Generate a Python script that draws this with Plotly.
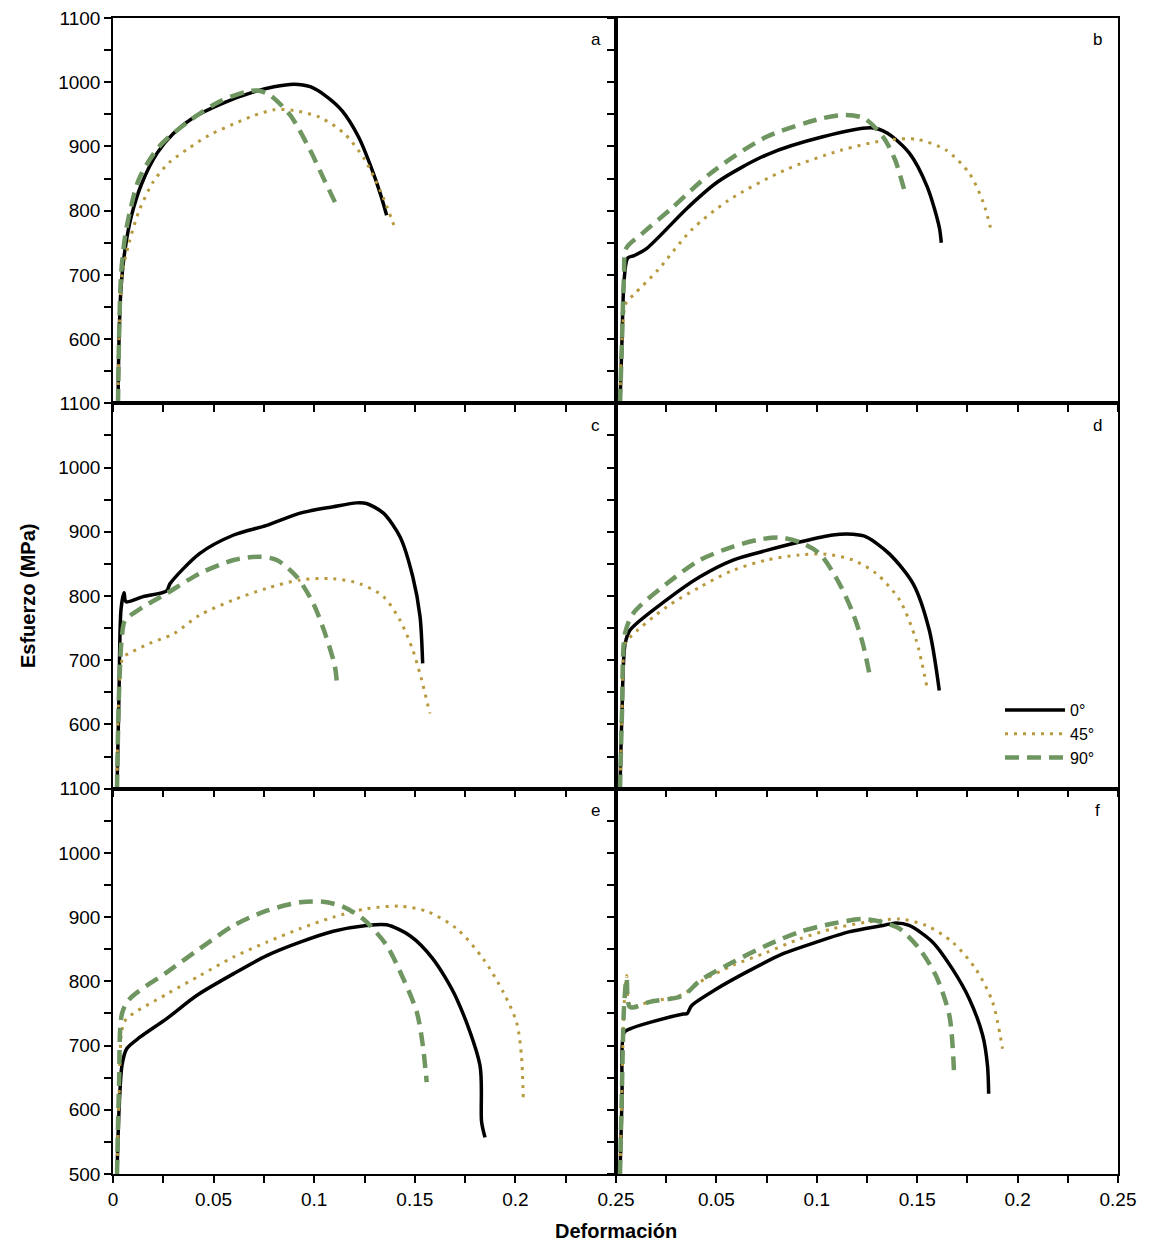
import plotly.graph_objects as go

# ---------------- data (strain, stress MPa) ----------------
orientations = ["0°", "45°", "90°"]
panel_letters = ["a", "b", "c", "d", "e", "f"]

a0_x = [0.0025, 0.003, 0.004, 0.006, 0.009, 0.014, 0.022, 0.030, 0.040, 0.055, 0.070, 0.080, 0.090, 0.098, 0.106, 0.114, 0.122, 0.128, 0.133, 0.136]
a0_y = [500, 600, 680, 740, 790, 840, 890, 920, 945, 968, 985, 993, 997, 993, 978, 955, 915, 870, 825, 793]
a45_x = [0.0025, 0.003, 0.0045, 0.008, 0.013, 0.020, 0.028, 0.038, 0.048, 0.060, 0.070, 0.080, 0.090, 0.103, 0.115, 0.125, 0.133, 0.1405]
a45_y = [500, 600, 700, 750, 800, 845, 875, 898, 918, 935, 948, 957, 956, 945, 920, 880, 830, 770]
a90_x = [0.0025, 0.003, 0.004, 0.006, 0.0085, 0.013, 0.023, 0.038, 0.053, 0.066, 0.072, 0.078, 0.088, 0.098, 0.105, 0.111]
a90_y = [500, 600, 700, 760, 800, 850, 900, 940, 970, 985, 987, 980, 949, 894, 848, 809]

b0_x = [0.002, 0.003, 0.004, 0.0058, 0.009, 0.0152, 0.0358, 0.0507, 0.075, 0.103, 0.127, 0.135, 0.146, 0.155, 0.161, 0.162]
b0_y = [500, 600, 690, 726, 730, 741, 805, 845, 887, 915, 929, 921, 890, 837, 774, 750]
b45_x = [0.002, 0.003, 0.005, 0.0094, 0.0207, 0.0376, 0.056, 0.084, 0.112, 0.135, 0.150, 0.1645, 0.176, 0.183, 0.187]
b45_y = [500, 600, 656, 671, 707, 770, 816, 863, 894, 910, 911, 894, 858, 812, 767]
b90_x = [0.002, 0.003, 0.004, 0.005, 0.0133, 0.0282, 0.047, 0.075, 0.103, 0.114, 0.1235, 0.133, 0.139, 0.144]
b90_y = [500, 600, 700, 741, 765, 805, 858, 915, 944, 949, 944, 915, 879, 827]

c0_x = [0.002, 0.003, 0.004, 0.0055, 0.0065, 0.015, 0.0267, 0.0283, 0.043, 0.060, 0.0764, 0.093, 0.1095, 0.121, 0.126, 0.1344, 0.1427, 0.149, 0.1526, 0.1539]
c0_y = [500, 650, 780, 805, 791, 799, 808, 819, 866, 895, 910, 929, 939, 945, 944, 929, 892, 830, 768, 695]
c45_x = [0.002, 0.003, 0.005, 0.0076, 0.018, 0.030, 0.043, 0.060, 0.0764, 0.093, 0.1095, 0.1228, 0.1344, 0.1427, 0.149, 0.153, 0.1575]
c45_y = [500, 650, 705, 710, 726, 741, 770, 794, 812, 825, 827, 819, 799, 762, 716, 674, 617]
c90_x = [0.002, 0.003, 0.0045, 0.006, 0.015, 0.0267, 0.043, 0.060, 0.073, 0.0814, 0.0913, 0.0996, 0.106, 0.1103, 0.1115]
c90_y = [500, 650, 740, 762, 783, 804, 835, 856, 861, 856, 830, 788, 736, 690, 656]

d0_x = [0.002, 0.003, 0.0045, 0.007, 0.0252, 0.0418, 0.0583, 0.075, 0.0914, 0.108, 0.118, 0.1246, 0.136, 0.148, 0.156, 0.161]
d0_y = [500, 620, 725, 747, 794, 830, 856, 871, 884, 895, 896, 892, 866, 819, 747, 653]
d45_x = [0.002, 0.003, 0.0045, 0.007, 0.0252, 0.0418, 0.0583, 0.075, 0.0914, 0.1047, 0.118, 0.1296, 0.1412, 0.1495, 0.1552]
d45_y = [500, 620, 725, 736, 783, 814, 840, 856, 864, 865, 856, 835, 794, 731, 653]
d90_x = [0.002, 0.003, 0.0045, 0.0086, 0.0252, 0.0418, 0.0583, 0.0716, 0.0815, 0.0914, 0.1014, 0.1113, 0.118, 0.1229, 0.1262]
d90_y = [500, 620, 742, 773, 819, 856, 877, 888, 891, 884, 866, 819, 773, 726, 679]

e0_x = [0.002, 0.003, 0.0045, 0.0068, 0.0134, 0.0267, 0.0416, 0.060, 0.0764, 0.093, 0.1095, 0.126, 0.136, 0.1476, 0.159, 0.1708, 0.1824, 0.1832, 0.1849]
e0_y = [500, 600, 670, 695, 713, 742, 778, 812, 840, 861, 878, 887, 888, 871, 835, 773, 669, 581, 557]
e45_x = [0.002, 0.003, 0.0045, 0.0068, 0.0267, 0.0432, 0.060, 0.0764, 0.093, 0.1095, 0.126, 0.1427, 0.156, 0.1708, 0.184, 0.194, 0.2006, 0.203, 0.2039]
e45_y = [500, 620, 725, 742, 780, 809, 838, 861, 882, 900, 913, 917, 909, 882, 835, 783, 736, 684, 619]
e90_x = [0.002, 0.003, 0.0045, 0.0084, 0.0267, 0.0432, 0.060, 0.0764, 0.093, 0.1045, 0.1145, 0.1244, 0.136, 0.1443, 0.151, 0.154, 0.1559]
e90_y = [500, 640, 750, 773, 814, 851, 887, 910, 923, 924, 916, 897, 856, 804, 752, 700, 643]

f0_x = [0.002, 0.003, 0.004, 0.007, 0.0169, 0.0335, 0.0355, 0.0376, 0.050, 0.0666, 0.0832, 0.0997, 0.116, 0.1329, 0.1395, 0.146, 0.1577, 0.1676, 0.1759, 0.1826, 0.185, 0.1856]
f0_y = [500, 620, 720, 726, 736, 749, 750, 762, 788, 817, 843, 861, 877, 887, 891, 887, 861, 819, 773, 716, 669, 625]
f45_x = [0.002, 0.003, 0.004, 0.0053, 0.007, 0.0169, 0.0335, 0.0418, 0.0583, 0.075, 0.0914, 0.108, 0.1246, 0.1412, 0.1545, 0.1676, 0.1792, 0.1875, 0.1925]
f45_y = [500, 640, 760, 809, 762, 768, 780, 799, 825, 845, 866, 882, 892, 897, 887, 861, 819, 768, 695]
f90_x = [0.002, 0.003, 0.004, 0.0053, 0.007, 0.0169, 0.0335, 0.0418, 0.0583, 0.075, 0.0914, 0.108, 0.1229, 0.1329, 0.1412, 0.151, 0.1593, 0.166, 0.1684]
f90_y = [500, 640, 760, 805, 760, 768, 778, 801, 830, 856, 877, 890, 897, 892, 882, 851, 809, 747, 653]

y_ticks = [500, 550, 600, 650, 700, 750, 800, 850, 900, 950, 1000, 1050, 1100]
x_ticks = [0, 0.025, 0.05, 0.075, 0.1, 0.125, 0.15, 0.175, 0.2, 0.225, 0.25]
x_labels = ["0", "", "0.05", "", "0.1", "", "0.15", "", "0.2", "", "0.25"]

panels = [
    (a0_x, a0_y, a45_x, a45_y, a90_x, a90_y),
    (b0_x, b0_y, b45_x, b45_y, b90_x, b90_y),
    (c0_x, c0_y, c45_x, c45_y, c90_x, c90_y),
    (d0_x, d0_y, d45_x, d45_y, d90_x, d90_y),
    (e0_x, e0_y, e45_x, e45_y, e90_x, e90_y),
    (f0_x, f0_y, f45_x, f45_y, f90_x, f90_y),
]

# ---------------- styles ----------------
styles = [
    dict(color="#000000", width=3.5, dash="solid"),
    dict(color="#b89a3e", width=3, dash="3px,6px"),
    dict(color="#6f9660", width=4.5, dash="14px,8px"),
]

W, H = 1150, 1247
ML, MR, MT, MB = 113, 32, 18, 73
split = 503 / 1005.0
col_domains = [[0, split], [split, 1]]
row_domains = [[2 / 3, 1], [1 / 3, 2 / 3], [0, 1 / 3]]

fig = go.Figure()
font_family = "Liberation Sans, Arial, sans-serif"

for i, pdata in enumerate(panels):
    ax = "" if i == 0 else str(i + 1)
    for k in range(3):
        xs, ys = pdata[2 * k], pdata[2 * k + 1]
        st = styles[k]
        fig.add_trace(go.Scatter(
            x=xs, y=ys, mode="lines", name=orientations[k],
            line=dict(color=st["color"], width=st["width"], dash=st["dash"],
                      shape="spline", smoothing=0.8),
            showlegend=(i == 3), xaxis="x" + ax, yaxis="y" + ax,
        ))

layout = dict(
    width=W, height=H,
    margin=dict(l=ML, r=MR, t=MT, b=MB, autoexpand=False),
    paper_bgcolor="white", plot_bgcolor="white",
    font=dict(family=font_family, size=18, color="#000"),
    showlegend=True,
    legend=dict(x=(1000 - ML) / 1005.0, y=(H - MB - 693) / 1156.0,
                xanchor="left", yanchor="top", bgcolor="white",
                font=dict(size=16), tracegroupgap=0, itemwidth=60,
                borderwidth=0),
)

for i in range(6):
    r, c = divmod(i, 2)
    ax = "" if i == 0 else str(i + 1)
    bottom = (r == 2)
    left = (c == 0)
    if bottom:
        if left:
            xtext = x_labels
        else:
            xtext = [""] + x_labels[1:]
    else:
        xtext = [""] * len(x_ticks)
    if left:
        if bottom:
            ytext = [str(v) if v % 100 == 0 else "" for v in y_ticks]
        else:
            ytext = [str(v) if (v % 100 == 0 and v > 500) else "" for v in y_ticks]
    else:
        ytext = [""] * len(y_ticks)
    layout["xaxis" + ax] = dict(
        domain=col_domains[c], range=[0, 0.25], anchor="y" + ax,
        showline=True, linecolor="black", linewidth=1.5, mirror=True,
        showgrid=False, zeroline=False, automargin=False,
        tickmode="array", tickvals=x_ticks, ticktext=xtext,
        ticks="outside", ticklen=7, tickwidth=2, tickcolor="black",
        tickfont=dict(size=19, family=font_family),
    )
    layout["yaxis" + ax] = dict(
        domain=row_domains[r], range=[500, 1100], anchor="x" + ax,
        showline=True, linecolor="black", linewidth=1.5, mirror=True,
        showgrid=False, zeroline=False, automargin=False,
        tickmode="array", tickvals=y_ticks, ticktext=ytext,
        ticks="outside", ticklen=7, tickwidth=2, tickcolor="black",
        tickfont=dict(size=19, family=font_family),
    )

fig.update_layout(**layout)

annotations = []
for i, letter in enumerate(panel_letters):
    ax = "" if i == 0 else str(i + 1)
    annotations.append(dict(
        text=letter, xref="x" + ax + " domain", yref="y" + ax + " domain",
        x=0.96, y=0.943, xanchor="center", yanchor="middle",
        showarrow=False, font=dict(size=17, family=font_family)))
annotations.append(dict(
    text="<b>Esfuerzo (MPa)</b>", xref="paper", yref="paper",
    x=(28 - ML) / 1005.0, y=0.5, xanchor="center", yanchor="middle",
    textangle=-90, showarrow=False, font=dict(size=20, family=font_family)))
annotations.append(dict(
    text="<b>Deformación</b>", xref="paper", yref="paper",
    x=0.5005, y=-(1231 - (H - MB)) / 1156.0, xanchor="center", yanchor="middle",
    showarrow=False, font=dict(size=20, family=font_family)))
fig.update_layout(annotations=annotations)

fig.write_html("out.html")
